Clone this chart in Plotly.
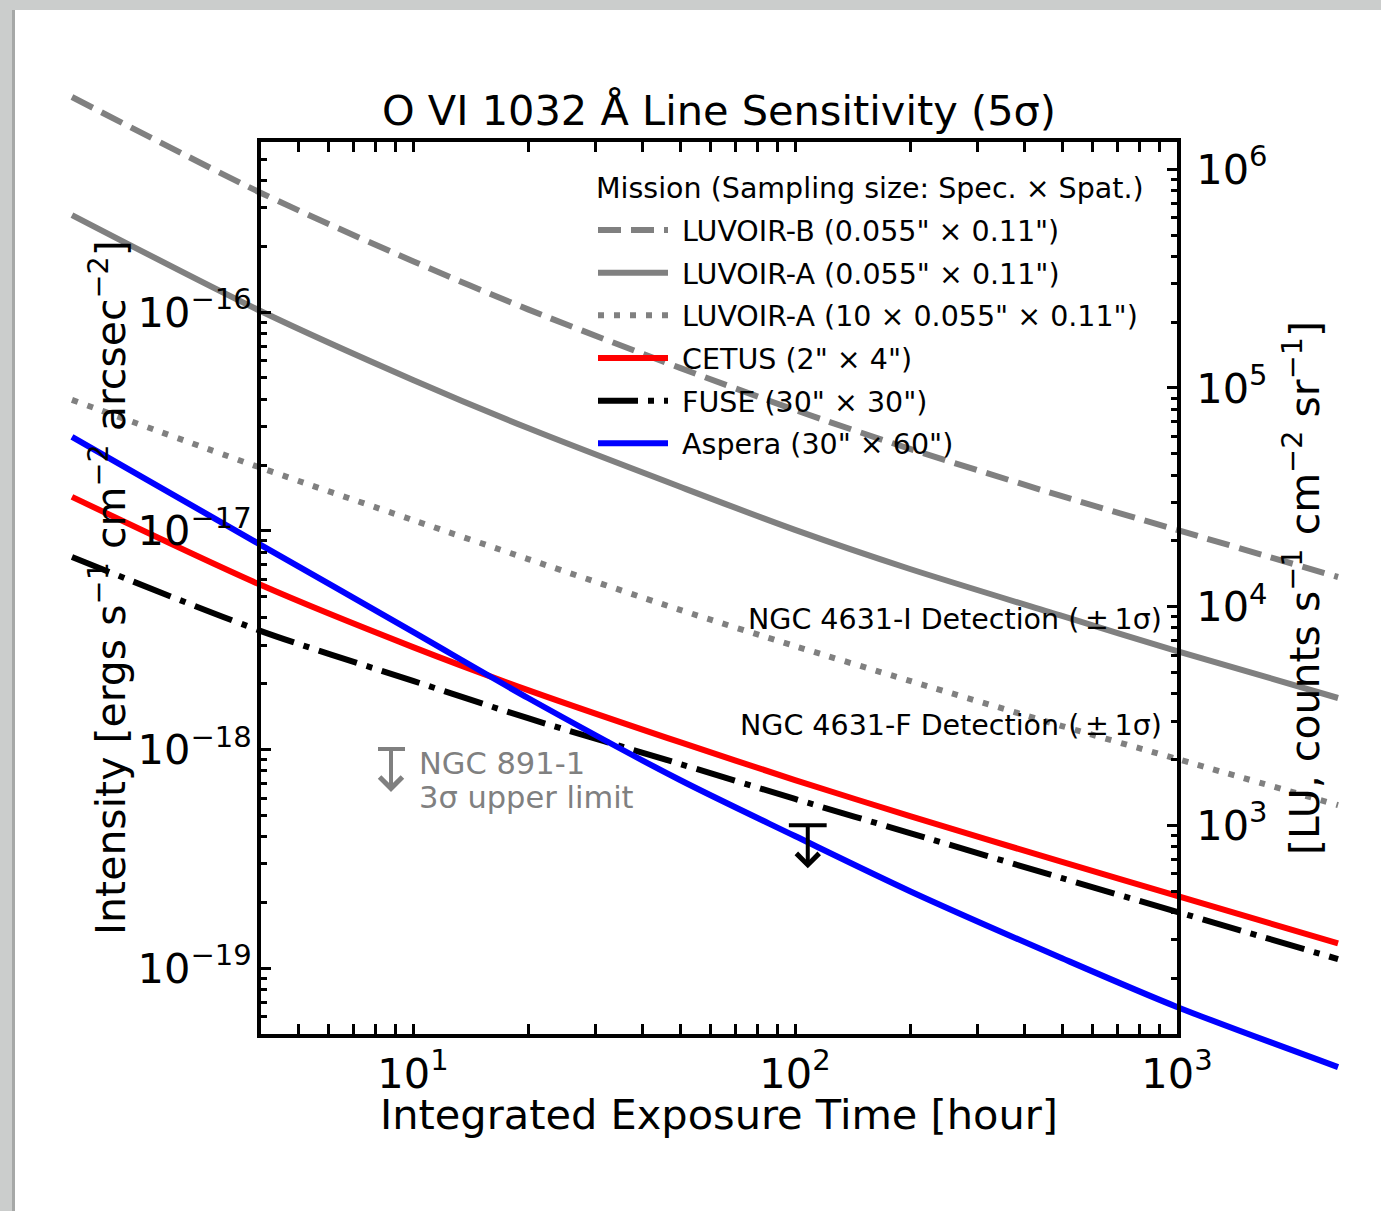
import numpy as np
import plotly.graph_objects as go

W, H = 1381, 1211
FONT = "DejaVu Sans"

# ---------------- data ----------------
time_h = [1.28, 4, 10, 20, 50, 100, 200, 500, 1000, 2640]
luvoir_b = [9.64e-16, 3.51e-16, 1.71e-16, 1.03e-16, 5.56e-17, 3.57e-17, 2.37e-17, 1.44e-17, 1.01e-17, 6.15e-18]
luvoir_a = [2.78e-16, 1.01e-16, 4.90e-17, 2.95e-17, 1.59e-17, 1.01e-17, 6.69e-18, 4.08e-18, 2.82e-18, 1.72e-18]
luvoir_a10 = [3.97e-17, 1.94e-17, 1.12e-17, 7.43e-18, 4.35e-18, 2.97e-18, 2.06e-18, 1.28e-18, 9.05e-19, 5.57e-19]
cetus = [1.43e-17, 5.65e-18, 2.94e-18, 1.87e-18, 1.08e-18, 7.25e-19, 4.96e-19, 3.06e-19, 2.14e-19, 1.30e-19]
fuse = [7.59e-18, 3.48e-18, 2.06e-18, 1.39e-18, 8.59e-19, 5.94e-19, 4.15e-19, 2.58e-19, 1.81e-19, 1.10e-19]
aspera = [2.69e-17, 8.61e-18, 3.45e-18, 1.72e-18, 7.25e-19, 4.02e-19, 2.25e-19, 1.11e-19, 6.65e-20, 3.53e-20]

series_names = ['LUVOIR-B (0.055" × 0.11")', 'LUVOIR-A (0.055" × 0.11")',
                'LUVOIR-A (10 × 0.055" × 0.11")', 'CETUS (2" × 4")',
                'FUSE (30" × 30")', 'Aspera (30" × 60")']

ngc891_time = [108]
ngc891_limit = [4.5e-19]

x_limits = [4, 1000]
y_limits = [5e-20, 6e-16]
intensity_per_lu = 4.5e-22

x_tick_vals = [10, 100, 1000]
x_tick_text = ['10<sup>1</sup>', '10<sup>2</sup>', '10<sup>3</sup>']
x_minor_vals = [5, 6, 7, 8, 9, 20, 30, 40, 50, 60, 70, 80, 90, 200, 300, 400, 500, 600, 700, 800, 900]
y_tick_vals = [1e-19, 1e-18, 1e-17, 1e-16]
y_tick_text = ['10<sup>−19</sup>', '10<sup>−18</sup>', '10<sup>−17</sup>', '10<sup>−16</sup>']
y_minor_vals = [m * 10.0 ** e for e in (-20, -19, -18, -17, -16) for m in range(2, 10)]
lu_tick_vals = [1e3, 1e4, 1e5, 1e6]
lu_tick_text = ['10<sup>3</sup>', '10<sup>4</sup>', '10<sup>5</sup>', '10<sup>6</sup>']
lu_minor_vals = [m * 10.0 ** e for e in (2, 3, 4, 5, 6) for m in range(2, 10)]

# ---------------- geometry ----------------
BOX_L, BOX_R, BOX_T, BOX_B = 261, 1177, 142, 1034
lx0, lx1 = np.log10(x_limits)
ly0, ly1 = np.log10(y_limits)
sx = (BOX_R - BOX_L) / (lx1 - lx0)
sy = (BOX_B - BOX_T) / (ly1 - ly0)


def px_logx(p):
    return lx0 + (p - BOX_L) / sx


def px_logy(p):
    return ly1 - (p - BOX_T) / sy


full_xr = [px_logx(0), px_logx(W)]
full_yr = [px_logy(H), px_logy(0)]

fig = go.Figure()

styles = [
    dict(color='#808080', width=6, dash='23px,10px'),
    dict(color='#808080', width=6),
    dict(color='#808080', width=6, dash='6px,10px'),
    dict(color='#ff0000', width=6),
    dict(color='#000000', width=6, dash='40px,10px,6px,10px'),
    dict(color='#0000ff', width=6),
]
for i, (vals, name, st) in enumerate(zip([luvoir_b, luvoir_a, luvoir_a10, cetus, fuse, aspera],
                                          series_names, styles)):
    st = dict(st, shape='spline', smoothing=0.8)
    fig.add_trace(go.Scatter(x=time_h, y=vals, mode='lines', name='\u00a0' + name, line=st,
                             legendgroup=f'g{i}', xaxis='x', yaxis='y', hoverinfo='skip'))

# upper-limit cap
fig.add_trace(go.Scatter(x=ngc891_time, y=ngc891_limit, mode='markers', showlegend=False,
                         marker=dict(symbol='line-ew', size=27, color='black',
                                     line=dict(color='black', width=4)),
                         xaxis='x', yaxis='y', hoverinfo='skip'))

# dummy traces so the box axes are drawn
fig.add_trace(go.Scatter(x=[None], y=[None], xaxis='x2', yaxis='y2', showlegend=False, hoverinfo='skip'))
fig.add_trace(go.Scatter(x=[None], y=[None], xaxis='x2', yaxis='y3', showlegend=False, hoverinfo='skip'))

TS = 41.5
tickfont = dict(family=FONT, size=TS, color='black')
minor_common = dict(ticks='inside', ticklen=6, tickwidth=3, tickcolor='black')

fig.update_layout(
    template='none',
    width=W, height=H, autosize=False,
    margin=dict(l=0, r=0, t=0, b=0, pad=0, autoexpand=False),
    paper_bgcolor='white', plot_bgcolor='rgba(0,0,0,0)',
    font=dict(family=FONT, color='black'),
    showlegend=True,
    xaxis=dict(type='log', domain=[0, 1], range=full_xr, visible=False, fixedrange=True, automargin=False),
    yaxis=dict(type='log', domain=[0, 1], range=full_yr, visible=False, fixedrange=True, automargin=False),
    xaxis2=dict(type='log', domain=[BOX_L / W, BOX_R / W], range=[lx0, lx1], anchor='y2',
                showline=True, linewidth=4, linecolor='black', mirror='allticks',
                ticks='inside', ticklen=10, tickwidth=3, tickcolor='black',
                tickmode='array', tickvals=x_tick_vals, ticktext=x_tick_text, tickfont=tickfont,
                minor=dict(tickmode='array', tickvals=x_minor_vals, **minor_common),
                showgrid=False, zeroline=False, automargin=False, fixedrange=True),
    yaxis2=dict(type='log', domain=[1 - BOX_B / H, 1 - BOX_T / H], range=[ly0, ly1], anchor='x2',
                showline=True, linewidth=4, linecolor='black',
                ticks='inside', ticklen=10, tickwidth=3, tickcolor='black',
                tickmode='array', tickvals=y_tick_vals, ticktext=y_tick_text, tickfont=tickfont,
                ticklabelstandoff=-3,
                minor=dict(tickmode='array', tickvals=y_minor_vals, **minor_common),
                showgrid=False, zeroline=False, automargin=False, fixedrange=True),
    yaxis3=dict(type='log', overlaying='y2', side='right', anchor='x2',
                range=[np.log10(y_limits[0] / intensity_per_lu), np.log10(y_limits[1] / intensity_per_lu)],
                showline=True, linewidth=4, linecolor='black',
                ticks='inside', ticklen=10, tickwidth=3, tickcolor='black',
                tickmode='array', tickvals=lu_tick_vals, ticktext=lu_tick_text, tickfont=tickfont,
                ticklabelstandoff=7,
                minor=dict(tickmode='array', tickvals=lu_minor_vals, **minor_common),
                showgrid=False, zeroline=False, automargin=False, fixedrange=True),
    legend=dict(x=593 / W, y=1 - 205 / H, xanchor='left', yanchor='top',
                bgcolor='rgba(0,0,0,0)', borderwidth=0,
                font=dict(family=FONT, size=28.5, color='black'),
                itemwidth=70, tracegroupgap=2.6),
    title=dict(text='O VI 1032 Å Line Sensitivity (5σ)', x=719 / W, y=1 - 110 / H,
               xanchor='center', yanchor='middle', font=dict(family=FONT, size=41.5, color='black')),
)

ann = []
ann.append(dict(text='Mission (Sampling size: Spec. × Spat.)', x=594 / W, y=1 - 189 / H,
                xref='paper', yref='paper', showarrow=False, font=dict(size=28.5),
                xanchor='left', yanchor='middle'))
ann.append(dict(text='Integrated Exposure Time [hour]', x=719 / W, y=1 - 1114 / H, xref='paper', yref='paper',
                showarrow=False, font=dict(size=41.5), xanchor='center', yanchor='middle'))
ann.append(dict(text='Intensity [ergs s<sup>−1</sup> cm<sup>−2</sup> arcsec<sup>−2</sup>]',
                x=108 / W, y=1 - 588 / H, xref='paper', yref='paper', textangle=-90,
                showarrow=False, font=dict(size=41), xanchor='center', yanchor='middle'))
ann.append(dict(text='[LU, counts s<sup>−1</sup> cm<sup>−2</sup> sr<sup>−1</sup>]',
                x=1302 / W, y=1 - 588 / H, xref='paper', yref='paper', textangle=-90,
                showarrow=False, font=dict(size=41), xanchor='center', yanchor='middle'))
ann.append(dict(text='NGC 4631-I Detection (\u2009±\u20091σ)', x=1164 / W, y=1 - 620 / H,
                xref='paper', yref='paper', showarrow=False, font=dict(size=28.5),
                xanchor='right', yanchor='middle'))
ann.append(dict(text='NGC 4631-F Detection (\u2009±\u20091σ)', x=1164 / W, y=1 - 725 / H,
                xref='paper', yref='paper', showarrow=False, font=dict(size=28.5),
                xanchor='right', yanchor='middle'))
ann.append(dict(text='NGC 891-1', x=417 / W, y=1 - 763 / H, xref='paper', yref='paper',
                showarrow=False, font=dict(size=30.5, color='#808080'), xanchor='left', yanchor='middle'))
ann.append(dict(text='3σ upper limit', x=417 / W, y=1 - 797 / H, xref='paper', yref='paper',
                showarrow=False, font=dict(size=30.5, color='#808080'), xanchor='left', yanchor='middle'))
# gray key arrow
ann.append(dict(text='', x=391 / W, y=1 - 792 / H, xref='paper', yref='paper', showarrow=True,
                ax=0, ay=-43, arrowhead=4, arrowwidth=4, arrowsize=1.1, arrowcolor='#808080', standoff=0))
# black upper-limit arrow
ann.append(dict(text='', x=np.log10(ngc891_time[0]), y=np.log10(ngc891_limit[0]), xref='x', yref='y',
                yshift=-43, showarrow=True, ax=0, ay=-43, arrowhead=4, arrowwidth=4, arrowsize=1.1,
                arrowcolor='black', standoff=0))
fig.update_layout(annotations=ann)

shapes = [
    dict(type='rect', xref='paper', yref='paper', x0=0, x1=15 / W, y0=0, y1=1,
         fillcolor='#cbcdcc', line=dict(width=0)),
    dict(type='rect', xref='paper', yref='paper', x0=0, x1=1, y0=1 - 10 / H, y1=1,
         fillcolor='#cbcdcc', line=dict(width=0)),
    dict(type='rect', xref='paper', yref='paper', x0=12 / W, x1=15 / W, y0=0, y1=1 - 10 / H,
         fillcolor='#a6a8a7', line=dict(width=0)),
    dict(type='line', xref='paper', yref='paper', x0=378 / W, x1=405 / W, y0=1 - 749 / H, y1=1 - 749 / H,
         line=dict(color='#808080', width=4)),
]
fig.update_layout(shapes=shapes)

fig.write_html("out.html")
